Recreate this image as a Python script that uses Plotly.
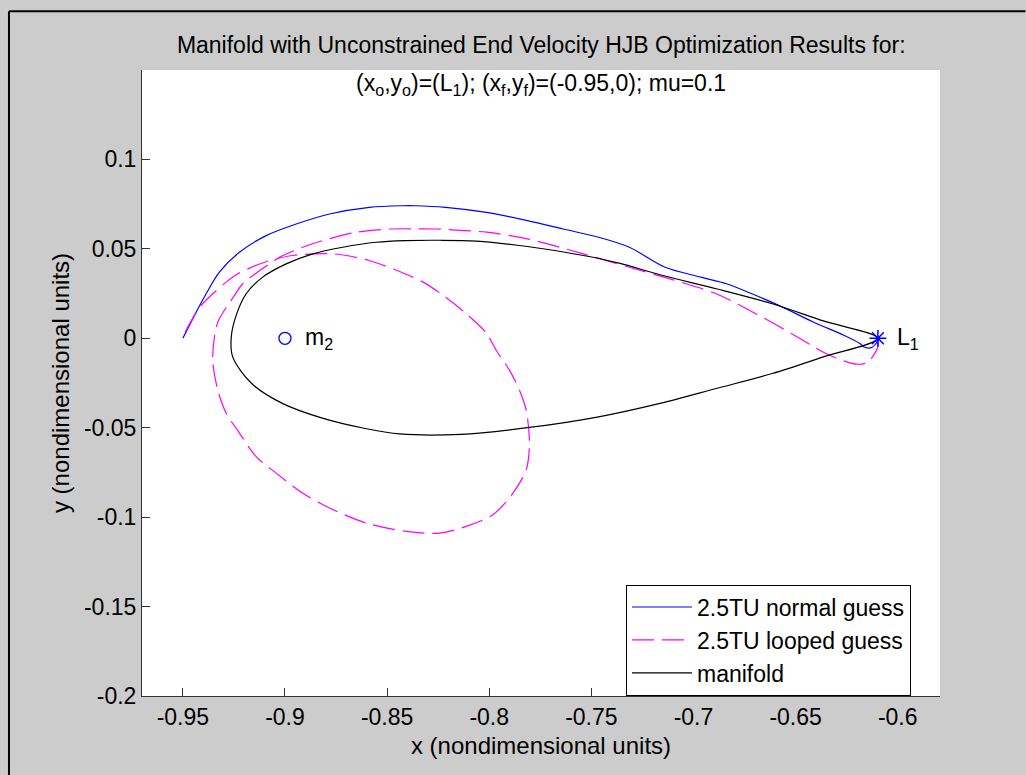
import plotly.graph_objects as go

# ---------------- data ----------------
normal_x = [-0.9500, -0.9443, -0.9386, -0.9321, -0.9223, -0.9092, -0.8945, -0.8782,
            -0.8586, -0.8425, -0.8363, -0.8214, -0.8014, -0.7813, -0.7639, -0.7464,
            -0.7314, -0.7139, -0.6964, -0.6839, -0.6714, -0.6564, -0.6414, -0.6264,
            -0.6187, -0.6162, -0.6129, -0.6105, -0.6097]
normal_y = [0.0000, 0.0128, 0.0249, 0.0370, 0.0481, 0.0574, 0.0639, 0.0695,
            0.0732, 0.0741, 0.0741, 0.0732, 0.0704, 0.0658, 0.0611, 0.0565,
            0.0509, 0.0397, 0.0342, 0.0305, 0.0249, 0.0174, 0.0091, 0.0017,
            -0.0028, -0.0050, -0.0052, -0.0028, 0.0000]

looped_x = [-0.6097, -0.6098, -0.6147, -0.6201, -0.6260, -0.6333, -0.6382, -0.6464,
            -0.6665, -0.6889, -0.7089, -0.7314, -0.7539, -0.7813, -0.8013, -0.8263,
            -0.8357, -0.8488, -0.8651, -0.8816, -0.8914, -0.9027, -0.9076, -0.9207,
            -0.9247, -0.9321, -0.9340, -0.9354, -0.9329, -0.9288, -0.9223, -0.9141,
            -0.9043, -0.8913, -0.8782, -0.8602, -0.8406, -0.8243, -0.8113, -0.7982,
            -0.7884, -0.7819, -0.7803, -0.7819, -0.7852, -0.7901, -0.7966, -0.8013,
            -0.8114, -0.8214, -0.8313, -0.8413, -0.8588, -0.8763, -0.8963, -0.9100,
            -0.9231, -0.9288, -0.9403, -0.9443, -0.9492, -0.9500]
looped_y = [0.0000, -0.0050, -0.0134, -0.0145, -0.0128, -0.0095, -0.0067, -0.0011,
            0.0119, 0.0249, 0.0323, 0.0397, 0.0472, 0.0556, 0.0593, 0.0611,
            0.0612, 0.0611, 0.0593, 0.0546, 0.0509, 0.0453, 0.0416, 0.0305,
            0.0240, 0.0110, 0.0045, -0.0123, -0.0290, -0.0418, -0.0530, -0.0662,
            -0.0754, -0.0866, -0.0949, -0.1033, -0.1080, -0.1089, -0.1052, -0.0987,
            -0.0866, -0.0736, -0.0587, -0.0401, -0.0290, -0.0178, -0.0067, 0.0028,
            0.0139, 0.0230, 0.0307, 0.0361, 0.0435, 0.0472, 0.0463, 0.0425,
            0.0361, 0.0314, 0.0193, 0.0128, 0.0026, 0.0000]

manifold_x = [-0.6097, -0.6364, -0.6614, -0.6889, -0.7164, -0.7364, -0.7539, -0.7813,
              -0.8064, -0.8238, -0.8413, -0.8553, -0.8717, -0.8864, -0.8994, -0.9109,
              -0.9190, -0.9239, -0.9263, -0.9256, -0.9163, -0.9013, -0.8813, -0.8613,
              -0.8438, -0.8139, -0.7813, -0.7464, -0.7164, -0.6889, -0.6614, -0.6364,
              -0.6097]
manifold_y = [0.0000, 0.0097, 0.0193, 0.0277, 0.0355, 0.0420, 0.0463, 0.0513,
              0.0543, 0.0548, 0.0546, 0.0537, 0.0509, 0.0472, 0.0416, 0.0342,
              0.0249, 0.0128, 0.0007, -0.0104, -0.0253, -0.0364, -0.0448, -0.0503,
              -0.0535, -0.0537, -0.0500, -0.0439, -0.0364, -0.0281, -0.0197, -0.0104,
              0.0000]

m2_x = [-0.9]
m2_y = [0.0]
L1_x = [-0.6097]
L1_y = [0.0]

series_names = ["2.5TU normal guess", "2.5TU looped guess", "manifold"]

x_tick_vals = [-0.95, -0.9, -0.85, -0.8, -0.75, -0.7, -0.65, -0.6]
x_tick_text = ["-0.95", "-0.9", "-0.85", "-0.8", "-0.75", "-0.7", "-0.65", "-0.6"]
y_tick_vals = [-0.2, -0.15, -0.1, -0.05, 0.0, 0.05, 0.1]
y_tick_text = ["-0.2", "-0.15", "-0.1", "-0.05", "0", "0.05", "0.1"]

title_line1 = "Manifold with Unconstrained End Velocity HJB Optimization Results for:"
title_line2 = "(x<sub>o</sub>,y<sub>o</sub>)=(L<sub>1</sub>); (x<sub>f</sub>,y<sub>f</sub>)=(-0.95,0); mu=0.1"

# ---------------- figure ----------------
FONT = "Liberation Sans, Arial, Helvetica, sans-serif"
FS = 23
AX_FS = 24

fig = go.Figure()
fig.add_trace(go.Scatter(x=normal_x, y=normal_y, mode="lines", name=series_names[0],
                         line=dict(color="#0000ff", width=1.2, shape="spline", smoothing=0.9)))
fig.add_trace(go.Scatter(x=looped_x, y=looped_y, mode="lines", name=series_names[1],
                         line=dict(color="#ff00ff", width=1.2, dash="22px,8px",
                                   shape="spline", smoothing=0.8)))
fig.add_trace(go.Scatter(x=manifold_x, y=manifold_y, mode="lines", name=series_names[2],
                         line=dict(color="#000000", width=1.2, shape="spline", smoothing=0.9)))
fig.add_trace(go.Scatter(x=m2_x, y=m2_y, mode="markers", showlegend=False,
                         marker=dict(symbol="circle-open", size=12, color="#0000ff",
                                     line=dict(width=1.3, color="#0000ff"))))
fig.add_trace(go.Scatter(x=L1_x, y=L1_y, mode="markers", showlegend=False,
                         marker=dict(symbol="asterisk-open", size=14, color="#0000ff",
                                     line=dict(width=1.5, color="#0000ff"))))

fig.add_annotation(x=m2_x[0] + 0.009, y=m2_y[0], text="m<sub>2</sub>", showarrow=False,
                   xanchor="left", yanchor="middle", font=dict(family=FONT, size=FS, color="#000"))
fig.add_annotation(x=L1_x[0] + 0.0085, y=L1_y[0], text="L<sub>1</sub>", showarrow=False,
                   xanchor="left", yanchor="middle", font=dict(family=FONT, size=FS, color="#000"))
fig.add_annotation(xref="paper", yref="paper", x=0.5, y=0.977, text=title_line2,
                   showarrow=False, xanchor="center", yanchor="middle",
                   font=dict(family=FONT, size=FS, color="#000"))

# window frame (left and top black edges only)
fig.add_shape(type="line", xref="paper", yref="paper", x0=-0.1667, x1=-0.1667, y0=-0.126, y1=1.094,
              line=dict(color="#000", width=2))
fig.add_shape(type="line", xref="paper", yref="paper", x0=-0.1667, x1=1.107, y0=1.094, y1=1.094,
              line=dict(color="#000", width=2))

fig.update_layout(
    width=1026, height=775,
    margin=dict(l=142, r=86, t=70, b=79),
    paper_bgcolor="#cccccc", plot_bgcolor="#ffffff",
    font=dict(family=FONT, size=FS, color="#000"),
    title=dict(text=title_line1, x=0.5275, xanchor="center", y=1 - 45 / 775, yanchor="middle",
               font=dict(family=FONT, size=FS, color="#000")),
    showlegend=True,
    legend=dict(x=0.6065, y=0.178, xanchor="left", yanchor="top",
                bgcolor="#ffffff", bordercolor="#000000", borderwidth=1,
                itemwidth=60,
                font=dict(family=FONT, size=FS, color="#000"), tracegroupgap=0),
    xaxis=dict(range=[-0.9700, -0.5793], tickvals=x_tick_vals, ticktext=x_tick_text,
               showgrid=False, zeroline=False, showline=True, linecolor="#333", linewidth=1,
               ticks="inside", ticklen=8, tickcolor="#333", mirror=False,
               title=dict(text="x (nondimensional units)", standoff=8,
                          font=dict(family=FONT, size=AX_FS, color="#000")),
               tickfont=dict(family=FONT, size=FS, color="#000")),
    yaxis=dict(range=[-0.2, 0.15], tickvals=y_tick_vals, ticktext=y_tick_text,
               showgrid=False, zeroline=False, showline=True, linecolor="#333", linewidth=1,
               ticks="inside", ticklen=8, tickcolor="#333", mirror=False,
               title=dict(text="y (nondimensional units)", standoff=7,
                          font=dict(family=FONT, size=AX_FS, color="#000")),
               tickfont=dict(family=FONT, size=FS, color="#000")),
)

fig.write_html("out.html")
